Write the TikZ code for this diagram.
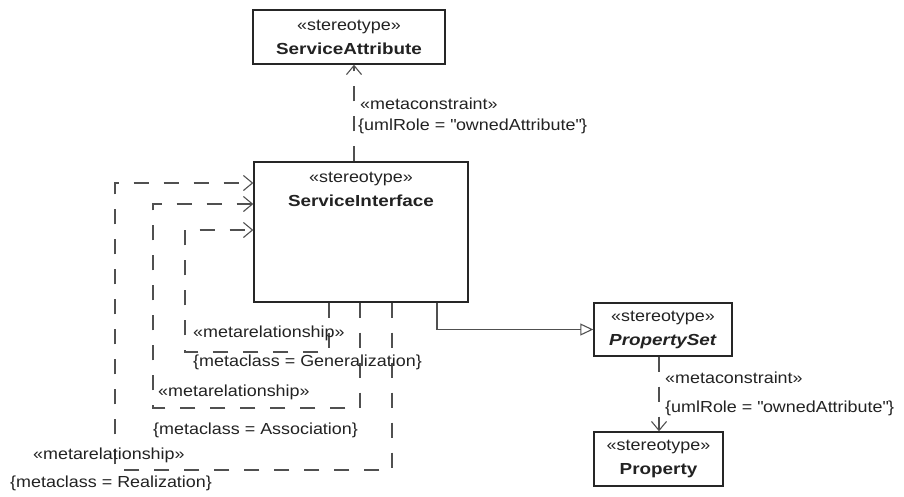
\documentclass[tikz,border=0pt]{standalone}
\usepackage{fontspec}
\setmainfont{Liberation Sans}[FakeStretch=1.12,
  BoldFeatures={FakeStretch=1.18}, BoldItalicFeatures={FakeStretch=1.18}]
\usetikzlibrary{arrows.meta}
\definecolor{umlline}{HTML}{505050}
\definecolor{umltext}{HTML}{222222}
\tikzset{
  stereo/.style={draw=black!85, line width=1.4pt, text=umltext, align=center, inner sep=0pt},
  meta/.style={draw=umlline, line width=1.1pt, dash pattern=on 15pt off 15pt},
  metatip/.style={-{Straight Barb[length=9pt,width=15pt,line width=1.1pt]}},
  note/.style={anchor=west, inner sep=0pt, text=umltext},
}
\begin{document}
\begin{tikzpicture}[x=1pt, y=-1pt, font=\fontsize{16}{24}\selectfont]
\useasboundingbox (0,0) rectangle (904,496);

% the four stereotypes
\node[stereo, minimum width=192pt, minimum height=54pt] (sattr) at (349,37) {«stereotype»\\\textbf{ServiceAttribute}};
\node[stereo, minimum width=214pt, minimum height=140pt,
  label={[anchor=north, align=center, text=umltext, inner sep=0pt, yshift=-11pt]north:«stereotype»\\\textbf{ServiceInterface}}] (sintf) at (361,232) {};
\node[stereo, minimum width=138pt, minimum height=53pt] (pset) at (663,329.5) {«stereotype»\\\textbf{\textit{PropertySet}}};
\node[stereo, minimum width=129pt, minimum height=54pt] (prop) at (658.5,459) {«stereotype»\\\textbf{Property}};

% metaconstraint to ServiceAttribute
\coordinate (saX) at (354,0);
\draw[meta, metatip] (sintf.north -| saX) -- (sattr.south -| saX);
\node[note] (saRel) at (360,104) {«metaconstraint»};
\node[note] (saRole) at (358,126) {\{umlRole = \textquotedbl ownedAttribute\textquotedbl\}};

% metarelationships back into ServiceInterface
\coordinate (realX) at (392,0);
\coordinate (realC) at (115,470);
\coordinate (realY) at (0,183);
\draw[meta, metatip] (sintf.south -| realX) |- (realC) |- (sintf.west |- realY);
\node[note] (realRel) at (33,455) {«metarelationship»};
\node[note] (realCls) at (10,483) {\{metaclass = Realization\}};

\coordinate (assocX) at (360,0);
\coordinate (assocC) at (153,408);
\coordinate (assocY) at (0,204);
\draw[meta, metatip] (sintf.south -| assocX) |- (assocC) |- (sintf.west |- assocY);
\node[note] (assocRel) at (158,392) {«metarelationship»};
\node[note] (assocCls) at (153,430) {\{metaclass = Association\}};

\coordinate (genX) at (329,0);
\coordinate (genC) at (185,352);
\coordinate (genY) at (0,230);
\draw[meta, metatip] (sintf.south -| genX) |- (genC) |- (sintf.west |- genY);
\node[note] (genRel) at (193,333) {«metarelationship»};
\node[note] (genCls) at (193,362) {\{metaclass = Generalization\}};

% generalization to PropertySet
\coordinate (psetX) at (437,0);
\draw[draw=umlline, line width=1.1pt, -{Triangle[open, length=13pt, width=12pt]}] (sintf.south -| psetX) |- (pset.west);

% metaconstraint to Property
\coordinate (propX) at (659,0);
\draw[meta, metatip] (pset.south -| propX) -- (prop.north -| propX);
\node[note] (propRel) at (665,378) {«metaconstraint»};
\node[note] (propRole) at (665,408) {\{umlRole = \textquotedbl ownedAttribute\textquotedbl\}};
\end{tikzpicture}
\end{document}
